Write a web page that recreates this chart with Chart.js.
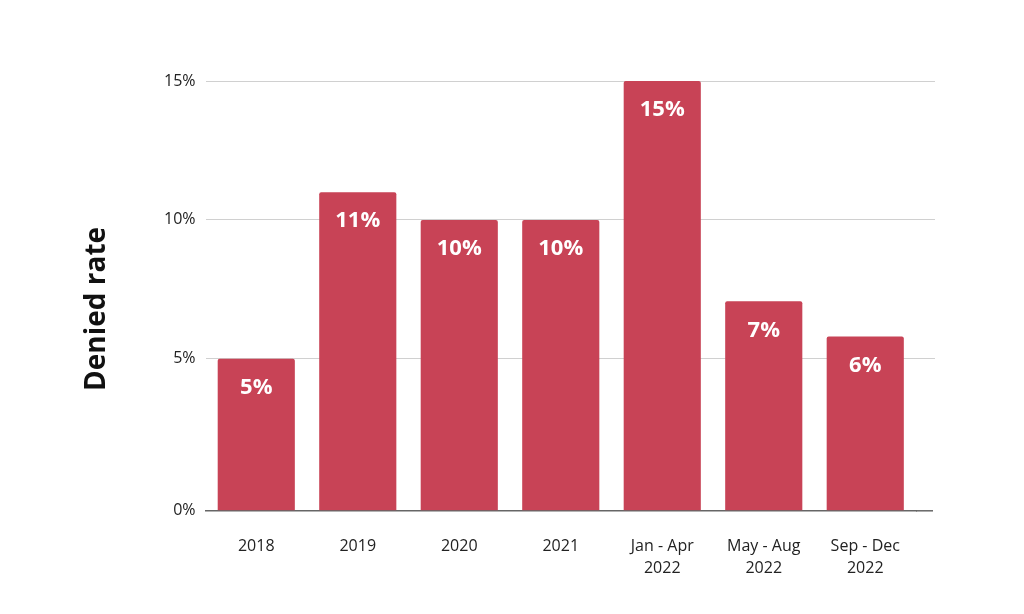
<!DOCTYPE html>
<html>
<head>
<meta charset="utf-8">
<script src="https://cdn.jsdelivr.net/npm/chart.js@4/dist/chart.umd.min.js"></script>
<style>
  html, body { margin: 0; padding: 0; background: #fff; }
  #wrap { width: 1024px; height: 614px; }
</style>
</head>
<body>
<div id="wrap"><canvas id="grafica"></canvas></div>
<script>
// datos de la gráfica
const categorias = ['2018', '2019', '2020', '2021', ['Jan - Apr', '2022'], ['May - Aug', '2022'], ['Sep - Dec', '2022']];
const tasaDenegada = [5, 11, 10, 10, 15, 7.07, 5.8];
const marcasEje = [0, 5, 10, 15];
const tituloEje = 'Denied rate';

// la línea base del original queda un poco por debajo del 0%
const baseEje = -0.47;

const colorBarra = '#C84356';
const fuente = '"Open Sans", sans-serif';

// etiquetas blancas dentro de cada barra
const etiquetasBarras = {
    id: 'etiquetasBarras',
    afterDatasetsDraw(chart) {
        const ctx = chart.ctx;
        const meta = chart.getDatasetMeta(0);
        ctx.save();
        ctx.fillStyle = '#ffffff';
        ctx.font = 'bold 22px ' + fuente;
        ctx.textAlign = 'center';
        ctx.textBaseline = 'middle';
        meta.data.forEach((bar, i) => {
            ctx.fillText(Math.round(tasaDenegada[i]) + '%', bar.x, bar.y + 29);
        });
        ctx.restore();
    }
};

// las líneas de la cuadrícula siguen un poco más allá de la última barra
const extenderCuadricula = {
    id: 'extenderCuadricula',
    beforeDatasetsDraw(chart) {
        const ctx = chart.ctx;
        const y = chart.scales.y;
        const area = chart.chartArea;
        ctx.save();
        y.ticks.forEach(t => {
            if (t.value < 0) return;
            const py = Math.round(y.getPixelForValue(t.value) - 0.5) + 0.5;
            ctx.strokeStyle = '#d0d0d0';
            ctx.lineWidth = 1;
            ctx.beginPath();
            ctx.moveTo(area.right, py);
            ctx.lineTo(area.right + 19, py);
            ctx.stroke();
        });
        ctx.strokeStyle = '#666666';
        ctx.lineWidth = 1.5;
        ctx.beginPath();
        ctx.moveTo(area.right, area.bottom);
        ctx.lineTo(area.right + 17, area.bottom);
        ctx.stroke();
        ctx.restore();
    }
};

// título vertical del eje, algo por debajo del centro como en el original
const tituloVertical = {
    id: 'tituloVertical',
    afterDraw(chart) {
        const ctx = chart.ctx;
        const area = chart.chartArea;
        ctx.save();
        ctx.translate(97, (area.top + area.bottom) / 2 + 13);
        ctx.rotate(-Math.PI / 2);
        ctx.fillStyle = '#111111';
        ctx.font = 'bold 28px ' + fuente;
        ctx.textAlign = 'center';
        ctx.textBaseline = 'middle';
        ctx.fillText(tituloEje, 0, 0);
        ctx.restore();
    }
};

new Chart(document.getElementById('grafica'), {
    type: 'bar',
    data: {
        labels: categorias,
        datasets: [{
            data: tasaDenegada,
            base: baseEje,
            backgroundColor: colorBarra,
            borderRadius: 2,
            borderSkipped: 'bottom',
            categoryPercentage: 1,
            barPercentage: 0.76
        }]
    },
    options: {
        responsive: true,
        maintainAspectRatio: false,
        animation: false,
        layout: { padding: { top: 81, right: 108, bottom: 10, left: 154 } },
        plugins: {
            legend: { display: false },
            tooltip: { enabled: false }
        },
        scales: {
            x: {
                grid: { display: false, drawTicks: false },
                border: { color: '#666666', width: 1.5 },
                ticks: {
                    color: '#222222',
                    padding: 25,
                    font: { family: fuente, size: 16, lineHeight: 1.35 }
                }
            },
            y: {
                min: baseEje,
                max: 15,
                afterBuildTicks: axis => {
                    axis.ticks = marcasEje.map(v => ({ value: v === 0 ? baseEje : v }));
                },
                grid: { color: '#d0d0d0', drawTicks: false },
                border: { display: false },
                ticks: {
                    color: '#222222',
                    padding: 10,
                    font: { family: fuente, size: 16 },
                    callback: v => (v < 0 ? 0 : v) + '%'
                }
            }
        }
    },
    plugins: [extenderCuadricula, etiquetasBarras, tituloVertical]
});
</script>
</body>
</html>
